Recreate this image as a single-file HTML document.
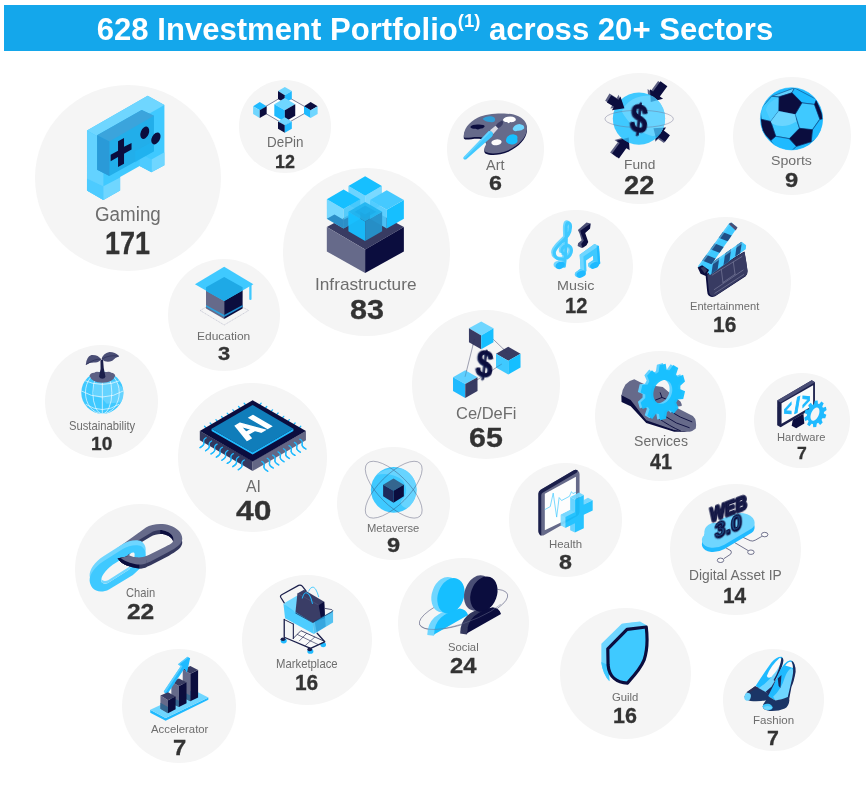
<!DOCTYPE html>
<html lang="en">
<head>
<meta charset="utf-8">
<title>628 Investment Portfolio across 20+ Sectors</title>
<style>
html,body{margin:0;padding:0;background:#fff;}
body{width:868px;height:790px;position:relative;overflow:hidden;font-family:"Liberation Sans",Arial,Helvetica,sans-serif;}
.hdr{position:absolute;left:3.8px;top:4.6px;width:862px;height:46.8px;background:#14a7eb;}
.hdr h1{position:absolute;left:0;top:0;width:862px;margin:0;height:46.8px;line-height:48px;text-align:center;color:#fff;font-weight:700;font-size:32px;white-space:nowrap;transform:scaleX(0.9713);transform-origin:50% 50%;}
.hdr h1 sup{font-size:19px;line-height:0;vertical-align:baseline;position:relative;top:-12.6px;}
.bubble{position:absolute;border-radius:50%;background:#f5f5f5;}
.lbl,.val{position:absolute;white-space:nowrap;line-height:1;transform-origin:0 50%;}
.lbl{color:#6d6d6d;font-weight:400;}
.val{color:#333;font-weight:700;-webkit-text-stroke:0.3px #333;}
svg.ico{position:absolute;width:868px;height:790px;overflow:visible;filter:blur(0.35px);pointer-events:none;}
</style>
</head>
<body>
<div class="hdr"><h1>628 Investment Portfolio<sup>(1)</sup> across 20+ Sectors</h1></div>

<div class="bubble b-gaming" style="left:34.8px;top:85.2px;width:186.0px;height:186.0px">
<svg class="ico" style="left:-34.8px;top:-85.2px" viewBox="0 0 868 790" width="868" height="790">
<g transform="translate(70,90) scale(0.13924)">
<polygon points="122,290 558,42 678,108 678,540 585,590 500,545 360,625 360,722 240,790 122,722" fill="#3fc9ff"/>
<polygon points="122,290 558,42 678,108 240,357" fill="#6fd6ff"/>
<polygon points="122,290 240,357 240,790 122,722" fill="#63d2ff"/>
<polygon points="122,635 240,692 360,628 360,722 240,790 122,722" fill="#6fd6ff"/>
<polygon points="122,635 240,692 240,790 122,722" fill="#4dcbff"/>
<polygon points="585,500 678,447 678,540 585,590" fill="#6fd6ff"/>
<polygon points="500,455 585,500 585,590 500,545" fill="#4dcbff"/>
<polygon points="195,325 515,143 603,185 603,440 283,617 195,572" fill="#22aeea"/>
<polygon points="195,325 515,143 603,185 283,370" fill="#3ba4dc"/>
<polygon points="195,325 283,370 283,617 195,572" fill="#2a9ad8"/>
<polygon points="468,440 603,365 603,440 500,500 468,520" fill="#1fb4f2" opacity="0.6"/>
<polygon points="345,368 388,345 388,408 442,380 442,428 388,458 388,530 345,553 345,482 292,512 292,465 345,436" fill="#0b0d3e"/>
<ellipse cx="537" cy="307" rx="29" ry="46" transform="rotate(22 537 307)" fill="#0b0d3e"/>
<ellipse cx="617" cy="348" rx="29" ry="46" transform="rotate(28 617 348)" fill="#0b0d3e"/>
</g>
</svg>
<span class="lbl" style="left:59.78px;top:119.54px;font-size:19.33px;transform:scaleX(0.9721)">Gaming</span>
<span class="val" style="left:70.41px;top:142.93px;font-size:31.94px;transform:scaleX(0.8454)">171</span>
</div>
<div class="bubble b-depin" style="left:239.0px;top:80.4px;width:92.4px;height:92.4px">
<svg class="ico" style="left:-239.0px;top:-80.4px" viewBox="0 0 868 790" width="868" height="790">
<g transform="translate(245,80) scale(0.09217)">
<polygon points="160,325 432,165 712,325 432,485" fill="#fff" stroke="#1b1f4b" stroke-width="6"/>
<polygon points="432,75 508,120 432,165 358,120" fill="#6fd6ff"/>
<polygon points="358,120 432,165 432,250 358,207" fill="#0b0d3e"/>
<polygon points="432,165 508,120 508,207 432,250" fill="#1fbaff"/>
<polygon points="432,195 545,262 432,328 318,262" fill="#6fd6ff"/>
<polygon points="318,262 432,328 432,455 318,388" fill="#1fbaff"/>
<polygon points="432,328 545,262 545,388 432,455" fill="#0b0d3e"/>
<polygon points="160,240 235,285 160,328 88,285" fill="#1fbaff"/>
<polygon points="88,285 160,328 160,412 88,370" fill="#6fd6ff"/>
<polygon points="160,328 235,285 235,370 160,412" fill="#0b0d3e"/>
<polygon points="712,240 788,285 712,328 640,285" fill="#0b0d3e"/>
<polygon points="640,285 712,328 712,412 640,370" fill="#1fbaff"/>
<polygon points="712,328 788,285 788,370 712,412" fill="#6fd6ff"/>
<polygon points="432,405 508,450 432,492 358,450" fill="#6fd6ff"/>
<polygon points="358,450 432,492 432,572 358,530" fill="#0b0d3e"/>
<polygon points="432,492 508,450 508,530 432,572" fill="#1fbaff"/>
</g>
</svg>
<span class="lbl" style="left:28.15px;top:55.59px;font-size:13.95px;transform:scaleX(0.9631)">DePin</span>
<span class="val" style="left:36.00px;top:72.43px;font-size:18.36px;transform:scaleX(0.9758)">12</span>
</div>
<div class="bubble b-infrastructure" style="left:283.2px;top:168.4px;width:167.2px;height:167.2px">
<svg class="ico" style="left:-283.2px;top:-168.4px" viewBox="0 0 868 790" width="868" height="790">
<g transform="translate(315,170) scale(0.13928)">
<polygon points="85,410 360,260 638,410 360,570" fill="#383b62"/>
<polygon points="85,410 360,570 360,740 85,585" fill="#666a8a"/>
<polygon points="360,570 638,410 638,585 360,740" fill="#0b0d3e"/>
<!-- back cube -->
<polygon points="240,115 360,185 360,320 240,250" fill="#5ed0ff" opacity="0.92"/>
<polygon points="360,185 480,115 480,250 360,320" fill="#6fd6ff" opacity="0.92"/>
<polygon points="360,45 480,115 360,185 240,115" fill="#16bfff"/>
<!-- left cube -->
<polygon points="85,210 205,280 205,420 85,350" fill="#6fd6ff" opacity="0.95"/>
<polygon points="205,280 325,210 325,350 205,420" fill="#45c6fb" opacity="0.9"/>
<polygon points="85,350 140,320 205,358 205,420" fill="#2b8fc8"/>
<polygon points="205,358 240,340 240,400 205,420" fill="#2b8fc8"/>
<polygon points="205,140 325,210 205,280 85,210" fill="#16bfff"/>
<!-- right cube -->
<polygon points="395,215 515,285 515,420 395,350" fill="#4fcbff" opacity="0.92"/>
<polygon points="515,285 638,215 638,350 515,420" fill="#16bfff"/>
<polygon points="515,145 638,215 515,285 395,215" fill="#45c9ff"/>
<!-- front cube -->
<polygon points="240,300 360,370 360,510 240,440" fill="#16bfff" opacity="0.95"/>
<polygon points="360,370 482,300 482,440 360,510" fill="#2592cb" opacity="0.95"/>
<polygon points="360,230 482,300 360,370 240,300" fill="#1fb4f0" opacity="0.9"/>
<polygon points="360,255 440,300 360,345 285,300" fill="#1aa8e6" opacity="0.6"/>
</g>
</svg>
<span class="lbl" style="left:31.99px;top:108.97px;font-size:15.99px;transform:scaleX(1.0775)">Infrastructure</span>
<span class="val" style="left:66.36px;top:127.62px;font-size:27.91px;transform:scaleX(1.0947)">83</span>
</div>
<div class="bubble b-education" style="left:167.7px;top:258.6px;width:112.8px;height:112.8px">
<svg class="ico" style="left:-167.7px;top:-258.6px" viewBox="0 0 868 790" width="868" height="790">
<g transform="translate(185,260) scale(0.09217)">
<polygon points="165,548 425,400 690,548 425,705" fill="none" stroke="#a3a5bb" stroke-width="5" stroke-dasharray="14 6"/>
<polygon points="228,300 425,410 425,640 228,525" fill="#666a8a"/>
<polygon points="425,410 625,300 625,525 425,640" fill="#0b0d3e"/>
<polygon points="228,488 425,598 425,618 228,508" fill="#2aa0dc"/>
<polygon points="425,598 625,488 625,508 425,618" fill="#1f8fd0"/>
<polygon points="108,262 425,72 742,262 425,445" fill="#3fc9ff"/>
<polygon points="228,295 425,185 625,295 625,330 425,445 228,335" fill="#1ea9e6"/>
<rect x="697" y="255" width="25" height="180" rx="12" fill="#3fc9ff"/>
</g>
</svg>
<span class="lbl" style="left:29.50px;top:72.68px;font-size:11.48px;transform:scaleX(1.0435)">Education</span>
<span class="val" style="left:50.62px;top:85.79px;font-size:19.13px;transform:scaleX(1.1458)">3</span>
</div>
<div class="bubble b-sustainability" style="left:45.3px;top:344.5px;width:113.0px;height:113.0px">
<svg class="ico" style="left:-45.3px;top:-344.5px" viewBox="0 0 868 790" width="868" height="790">
<g transform="translate(62,345) scale(0.09494)">
<defs><clipPath id="gl"><circle cx="425" cy="502" r="222"/></clipPath></defs>
<circle cx="425" cy="502" r="222" fill="#3fc9ff"/>
<g clip-path="url(#gl)">
<path d="M330,400 L560,380 L660,470 L640,600 L470,620 L420,560 L340,540 Z" fill="#6fd6ff" opacity="0.8"/>
<g fill="none" stroke="#fff" stroke-width="7" opacity="0.95">
<line x1="425" y1="280" x2="425" y2="724"/>
<ellipse cx="425" cy="502" rx="100" ry="222"/>
<ellipse cx="425" cy="502" rx="178" ry="222"/>
<path d="M195,480 Q425,615 655,480"/>
<path d="M225,370 Q425,460 625,370"/>
<path d="M250,625 Q425,735 600,625"/>
</g>
</g>
<path d="M290,325 Q300,290 340,292 Q360,275 390,285 L470,285 Q500,275 520,292 Q555,295 560,325 Q540,395 425,398 Q310,395 290,325 Z" fill="#5d6083"/>
<path d="M405,160 Q415,250 390,335 Q400,355 425,355 Q452,355 458,335 Q435,250 432,150 Z" fill="#1b1f4b"/>
<path d="M412,150 Q380,100 310,105 Q255,125 250,210 Q300,180 350,185 Q395,180 412,150 Z" fill="#4a4e75"/>
<path d="M418,150 Q430,90 500,75 Q560,75 602,118 Q560,130 530,165 Q470,195 418,150 Z" fill="#4a4e75"/>
<path d="M412,150 Q350,140 255,205" fill="none" stroke="#2c2f57" stroke-width="8"/>
<path d="M420,148 Q500,100 598,118" fill="none" stroke="#2c2f57" stroke-width="8"/>
</g>
</svg>
<span class="lbl" style="left:23.45px;top:76.71px;font-size:11.92px;transform:scaleX(0.9435)">Sustainability</span>
<span class="val" style="left:45.82px;top:89.28px;font-size:19.24px;transform:scaleX(0.9948)">10</span>
</div>
<div class="bubble b-ai" style="left:178.4px;top:383.4px;width:148.2px;height:148.2px">
<svg class="ico" style="left:-178.4px;top:-383.4px" viewBox="0 0 868 790" width="868" height="790">
<g transform="translate(190,392) scale(0.144)">
<g fill="none" stroke="#1fbaff" stroke-width="9" stroke-linecap="round"><path d="M119,258 L101,238" /><path d="M158,235 L140,215" /><path d="M198,212 L180,192" /><path d="M237,190 L219,170" /><path d="M276,167 L258,147" /><path d="M316,144 L298,124" /><path d="M355,121 L337,101" /><path d="M394,98 L376,78" /><path d="M476,98 L494,78" /><path d="M515,121 L533,101" /><path d="M555,144 L573,124" /><path d="M594,166 L612,146" /><path d="M633,189 L651,169" /><path d="M672,212 L690,192" /><path d="M712,235 L730,215" /><path d="M751,258 L769,238" /><path d="M112,318 q-22,12 -16,32 q6,18 -26,36" /><path d="M150,340 q-22,12 -16,32 q6,18 -26,36" /><path d="M188,362 q-22,12 -16,32 q6,18 -26,36" /><path d="M225,384 q-22,12 -16,32 q6,18 -26,36" /><path d="M263,406 q-22,12 -16,32 q6,18 -26,36" /><path d="M301,428 q-22,12 -16,32 q6,18 -26,36" /><path d="M339,450 q-22,12 -16,32 q6,18 -26,36" /><path d="M377,472 q-22,12 -16,32 q6,18 -26,36" /><path d="M498,482 q22,12 16,32 q-6,18 26,36" /><path d="M536,460 q22,12 16,32 q-6,18 26,36" /><path d="M574,438 q22,12 16,32 q-6,18 26,36" /><path d="M611,416 q22,12 16,32 q-6,18 26,36" /><path d="M649,394 q22,12 16,32 q-6,18 26,36" /><path d="M687,372 q22,12 16,32 q-6,18 26,36" /><path d="M725,350 q22,12 16,32 q-6,18 26,36" /><path d="M763,328 q22,12 16,32 q-6,18 26,36" /></g>
<polygon points="68,270 435,480 435,548 68,335" fill="#34385e"/>
<polygon points="435,480 805,270 805,335 435,548" fill="#636785"/>
<g fill="none" stroke="#1fbaff" stroke-width="9" stroke-linecap="round"><path d="M112,318 q-22,12 -16,32 q6,18 -26,36" /><path d="M150,340 q-22,12 -16,32 q6,18 -26,36" /><path d="M188,362 q-22,12 -16,32 q6,18 -26,36" /><path d="M225,384 q-22,12 -16,32 q6,18 -26,36" /><path d="M263,406 q-22,12 -16,32 q6,18 -26,36" /><path d="M301,428 q-22,12 -16,32 q6,18 -26,36" /><path d="M339,450 q-22,12 -16,32 q6,18 -26,36" /><path d="M377,472 q-22,12 -16,32 q6,18 -26,36" /><path d="M498,482 q22,12 16,32 q-6,18 26,36" /><path d="M536,460 q22,12 16,32 q-6,18 26,36" /><path d="M574,438 q22,12 16,32 q-6,18 26,36" /><path d="M611,416 q22,12 16,32 q-6,18 26,36" /><path d="M649,394 q22,12 16,32 q-6,18 26,36" /><path d="M687,372 q22,12 16,32 q-6,18 26,36" /><path d="M725,350 q22,12 16,32 q-6,18 26,36" /><path d="M763,328 q22,12 16,32 q-6,18 26,36" /></g>
<polygon points="68,270 435,58 805,270 435,482" fill="#0b0d3e"/>
<polygon points="150,255 435,418 718,255 718,270 435,434 150,270" fill="#1fbaff"/>
<polygon points="150,255 435,90 718,255 435,420" fill="#107dba"/>
<text transform="matrix(0.866,-0.5,0.866,0.5,392,338)" x="0" y="0" font-family="'Liberation Sans',Arial,sans-serif" font-weight="700" font-size="215" fill="#fff" stroke="#fff" stroke-width="10">AI</text>
</g>
</svg>
<span class="lbl" style="left:67.26px;top:95.73px;font-size:16.86px;transform:scaleX(0.9371)">AI</span>
<span class="val" style="left:57.35px;top:113.42px;font-size:28.05px;transform:scaleX(1.1361)">40</span>
</div>
<div class="bubble b-metaverse" style="left:336.8px;top:447.0px;width:113.2px;height:113.2px">
<svg class="ico" style="left:-336.8px;top:-447.0px" viewBox="0 0 868 790" width="868" height="790">
<g transform="translate(355,453) scale(0.09217)">
<defs><clipPath id="mv"><circle cx="420" cy="400" r="248"/></clipPath></defs>
<circle cx="420" cy="400" r="248" fill="#3fc9ff"/>
<g clip-path="url(#mv)"><path d="M230,240 Q330,150 520,170 L700,250 L700,560 L560,600 Q480,570 500,520 Q600,420 520,300 Q400,200 230,240 Z" fill="#6fd6ff" opacity="0.85"/></g>
<polygon points="418,278 530,345 418,410 305,345" fill="#34668f"/>
<polygon points="305,345 418,410 418,540 305,470" fill="#1d2a5c"/>
<polygon points="418,410 530,345 530,470 418,540" fill="#0b0d3e"/>
<g fill="none" stroke="#2c2f57" stroke-width="5" opacity="0.75">
<ellipse cx="420" cy="398" rx="405" ry="162" transform="rotate(45 420 398)"/>
<ellipse cx="420" cy="398" rx="405" ry="162" transform="rotate(-45 420 398)"/>
</g>
</g>
</svg>
<span class="lbl" style="left:30.47px;top:76.03px;font-size:11.19px;transform:scaleX(1.0004)">Metaverse</span>
<span class="val" style="left:49.84px;top:88.08px;font-size:20.64px;transform:scaleX(1.1430)">9</span>
</div>
<div class="bubble b-chain" style="left:75.1px;top:503.8px;width:130.8px;height:130.8px">
<svg class="ico" style="left:-75.1px;top:-503.8px" viewBox="0 0 868 790" width="868" height="790">
<defs>
<clipPath id="chL"><rect x="0" y="300" width="318" height="300"/></clipPath>
<clipPath id="chR"><rect x="545" y="0" width="300" height="300"/></clipPath>
<clipPath id="chH"><path d="M300,225 L440,140 C480,115 530,105 570,110 C640,120 700,170 688,225 C680,250 640,270 600,290 L420,380 C380,400 330,410 290,405 C240,400 200,385 185,360 Z"/></clipPath>
<g id="chd">
<path transform="translate(0,42)" d="M85,300 L390,82 C450,45 560,30 650,60 C740,90 800,160 780,225 C765,270 720,300 640,345 L440,450 C380,480 330,490 280,480 C180,460 100,420 75,360 C65,330 70,315 85,300 Z M300,225 L440,140 C480,115 530,105 570,110 C640,120 700,170 688,225 C680,250 640,270 600,290 L420,380 C380,400 330,410 290,405 C240,400 200,385 185,360 Z" fill="#34385e" fill-rule="evenodd"/>
<g clip-path="url(#chL)"><path transform="translate(0,42)" d="M85,300 L390,82 C450,45 560,30 650,60 C740,90 800,160 780,225 C765,270 720,300 640,345 L440,450 C380,480 330,490 280,480 C180,460 100,420 75,360 C65,330 70,315 85,300 Z M300,225 L440,140 C480,115 530,105 570,110 C640,120 700,170 688,225 C680,250 640,270 600,290 L420,380 C380,400 330,410 290,405 C240,400 200,385 185,360 Z" fill="#0b0d3e" fill-rule="evenodd"/></g>
<g clip-path="url(#chR)"><g clip-path="url(#chH)"><path transform="translate(0,42)" d="M85,300 L390,82 C450,45 560,30 650,60 C740,90 800,160 780,225 C765,270 720,300 640,345 L440,450 C380,480 330,490 280,480 C180,460 100,420 75,360 C65,330 70,315 85,300 Z M300,225 L440,140 C480,115 530,105 570,110 C640,120 700,170 688,225 C680,250 640,270 600,290 L420,380 C380,400 330,410 290,405 C240,400 200,385 185,360 Z" fill="#0b0d3e" fill-rule="evenodd"/></g></g>
<path d="M85,300 L390,82 C450,45 560,30 650,60 C740,90 800,160 780,225 C765,270 720,300 640,345 L440,450 C380,480 330,490 280,480 C180,460 100,420 75,360 C65,330 70,315 85,300 Z M300,225 L440,140 C480,115 530,105 570,110 C640,120 700,170 688,225 C680,250 640,270 600,290 L420,380 C380,400 330,410 290,405 C240,400 200,385 185,360 Z" fill="#666a8a" fill-rule="evenodd"/>
</g>
<clipPath id="chc"><polygon points="60,420 170,398 250,398 400,385 400,545 60,545"/></clipPath>
</defs>
<g transform="translate(110,520) scale(0.09217)"><g >
<path transform="translate(0,42)" d="M85,300 L390,82 C450,45 560,30 650,60 C740,90 800,160 780,225 C765,270 720,300 640,345 L440,450 C380,480 330,490 280,480 C180,460 100,420 75,360 C65,330 70,315 85,300 Z M300,225 L440,140 C480,115 530,105 570,110 C640,120 700,170 688,225 C680,250 640,270 600,290 L420,380 C380,400 330,410 290,405 C240,400 200,385 185,360 Z" fill="#34385e" fill-rule="evenodd"/>
<g clip-path="url(#chL)"><path transform="translate(0,42)" d="M85,300 L390,82 C450,45 560,30 650,60 C740,90 800,160 780,225 C765,270 720,300 640,345 L440,450 C380,480 330,490 280,480 C180,460 100,420 75,360 C65,330 70,315 85,300 Z M300,225 L440,140 C480,115 530,105 570,110 C640,120 700,170 688,225 C680,250 640,270 600,290 L420,380 C380,400 330,410 290,405 C240,400 200,385 185,360 Z" fill="#0b0d3e" fill-rule="evenodd"/></g>
<g clip-path="url(#chR)"><g clip-path="url(#chH)"><path transform="translate(0,42)" d="M85,300 L390,82 C450,45 560,30 650,60 C740,90 800,160 780,225 C765,270 720,300 640,345 L440,450 C380,480 330,490 280,480 C180,460 100,420 75,360 C65,330 70,315 85,300 Z M300,225 L440,140 C480,115 530,105 570,110 C640,120 700,170 688,225 C680,250 640,270 600,290 L420,380 C380,400 330,410 290,405 C240,400 200,385 185,360 Z" fill="#0b0d3e" fill-rule="evenodd"/></g></g>
<path d="M85,300 L390,82 C450,45 560,30 650,60 C740,90 800,160 780,225 C765,270 720,300 640,345 L440,450 C380,480 330,490 280,480 C180,460 100,420 75,360 C65,330 70,315 85,300 Z M300,225 L440,140 C480,115 530,105 570,110 C640,120 700,170 688,225 C680,250 640,270 600,290 L420,380 C380,400 330,410 290,405 C240,400 200,385 185,360 Z" fill="#666a8a" fill-rule="evenodd"/>
</g></g>
<g transform="translate(85,535) scale(0.09217)">
<defs><mask id="chm" maskUnits="userSpaceOnUse" x="0" y="0" width="900" height="700"><rect x="0" y="0" width="900" height="700" fill="#fff"/><path d="M178,505 C168,455 215,385 300,322 L440,235 C480,205 520,180 535,195 C550,215 535,290 480,375 L250,520 C220,535 185,530 178,505 Z" fill="#000"/></mask></defs>
<g mask="url(#chm)">
<path transform="translate(0,-55)" d="M50,495 C48,430 100,350 200,285 L410,153 C470,115 560,98 610,123 C650,148 668,200 655,250 L610,350 L520,435 L260,590 C200,622 120,622 82,575 C62,550 52,525 50,495 Z" fill="#6fd6ff"/>
<path d="M50,495 C48,430 100,350 200,285 L410,153 C470,115 560,98 610,123 C650,148 668,200 655,250 L610,350 L520,435 L260,590 C200,622 120,622 82,575 C62,550 52,525 50,495 Z" fill="#3fc9ff"/>
</g>
<defs><clipPath id="chbh"><path d="M178,505 C168,455 215,385 300,322 L440,235 C480,205 520,180 535,195 C550,215 535,290 480,375 L250,520 C220,535 185,530 178,505 Z"/></clipPath></defs>
<g clip-path="url(#chbh)"><path transform="translate(0,-30)" d="M50,495 C48,430 100,350 200,285 L410,153 C470,115 560,98 610,123 C650,148 668,200 655,250 L610,350 L520,435 L260,590 C200,622 120,622 82,575 C62,550 52,525 50,495 Z M178,505 C168,455 215,385 300,322 L440,235 C480,205 520,180 535,195 C550,215 535,290 480,375 L250,520 C220,535 185,530 178,505 Z" fill="#6fd6ff" fill-rule="evenodd"/></g>
</g>
<g transform="translate(110,520) scale(0.09217)" clip-path="url(#chc)"><g >
<path transform="translate(0,42)" d="M85,300 L390,82 C450,45 560,30 650,60 C740,90 800,160 780,225 C765,270 720,300 640,345 L440,450 C380,480 330,490 280,480 C180,460 100,420 75,360 C65,330 70,315 85,300 Z M300,225 L440,140 C480,115 530,105 570,110 C640,120 700,170 688,225 C680,250 640,270 600,290 L420,380 C380,400 330,410 290,405 C240,400 200,385 185,360 Z" fill="#34385e" fill-rule="evenodd"/>
<g clip-path="url(#chL)"><path transform="translate(0,42)" d="M85,300 L390,82 C450,45 560,30 650,60 C740,90 800,160 780,225 C765,270 720,300 640,345 L440,450 C380,480 330,490 280,480 C180,460 100,420 75,360 C65,330 70,315 85,300 Z M300,225 L440,140 C480,115 530,105 570,110 C640,120 700,170 688,225 C680,250 640,270 600,290 L420,380 C380,400 330,410 290,405 C240,400 200,385 185,360 Z" fill="#0b0d3e" fill-rule="evenodd"/></g>
<g clip-path="url(#chR)"><g clip-path="url(#chH)"><path transform="translate(0,42)" d="M85,300 L390,82 C450,45 560,30 650,60 C740,90 800,160 780,225 C765,270 720,300 640,345 L440,450 C380,480 330,490 280,480 C180,460 100,420 75,360 C65,330 70,315 85,300 Z M300,225 L440,140 C480,115 530,105 570,110 C640,120 700,170 688,225 C680,250 640,270 600,290 L420,380 C380,400 330,410 290,405 C240,400 200,385 185,360 Z" fill="#0b0d3e" fill-rule="evenodd"/></g></g>
<path d="M85,300 L390,82 C450,45 560,30 650,60 C740,90 800,160 780,225 C765,270 720,300 640,345 L440,450 C380,480 330,490 280,480 C180,460 100,420 75,360 C65,330 70,315 85,300 Z M300,225 L440,140 C480,115 530,105 570,110 C640,120 700,170 688,225 C680,250 640,270 600,290 L420,380 C380,400 330,410 290,405 C240,400 200,385 185,360 Z" fill="#666a8a" fill-rule="evenodd"/>
</g></g>
</svg>
<span class="lbl" style="left:51.02px;top:84.41px;font-size:11.92px;transform:scaleX(0.9378)">Chain</span>
<span class="val" style="left:52.06px;top:96.03px;font-size:22.97px;transform:scaleX(1.0666)">22</span>
</div>
<div class="bubble b-marketplace" style="left:241.5px;top:574.5px;width:130.6px;height:130.6px">
<svg class="ico" style="left:-241.5px;top:-574.5px" viewBox="0 0 868 790" width="868" height="790">
<g transform="translate(266,578) scale(0.10127)">
<!-- wheels -->
<ellipse cx="175" cy="622" rx="30" ry="24" fill="#1fbaff"/><ellipse cx="168" cy="605" rx="24" ry="18" fill="#1b1f4b"/>
<ellipse cx="438" cy="725" rx="30" ry="24" fill="#1fbaff"/><ellipse cx="432" cy="705" rx="24" ry="18" fill="#1b1f4b"/>
<ellipse cx="565" cy="660" rx="28" ry="24" fill="#1fbaff"/>
<!-- lower shelf -->
<polygon points="270,595 345,520 565,625 450,690" fill="#fafafa"/>
<g fill="none" stroke="#1b1f4b" stroke-linejoin="round" stroke-linecap="round">
<path d="M180,410 L180,585 L440,695 L580,630 L505,545" stroke-width="13"/>
<path d="M270,455 L270,598" stroke-width="11"/>
<path d="M180,410 L270,455" stroke-width="9"/>
<path d="M270,595 L345,520 L565,620" stroke-width="8"/>
<path d="M310,558 L510,655 M400,548 L330,620 M480,585 L390,665" stroke-width="6"/>
</g>
<!-- basket back -->
<polygon points="178,250 310,172 300,340 215,300" fill="#6fd6ff"/>
<path d="M180,245 L145,190 Q138,175 155,165 L322,73 Q342,65 358,80 L395,128" fill="none" stroke="#1b1f4b" stroke-width="12" stroke-linecap="round" stroke-linejoin="round"/>
<!-- bag -->
<path d="M420,130 Q455,60 490,110 Q510,145 520,185" fill="none" stroke="#3fc9ff" stroke-width="9" stroke-linecap="round"/>
<polygon points="310,152 375,115 575,235 582,395 465,442 290,348" fill="#3a3d66"/>
<polygon points="520,268 575,235 582,395 545,410" fill="#0b0d3e"/>
<path d="M312,152 L520,268" stroke="#52567e" stroke-width="6" fill="none"/>
<path d="M358,198 Q385,110 430,170 Q450,205 458,252" fill="none" stroke="#1fbaff" stroke-width="10" stroke-linecap="round"/>
<!-- basket front -->
<polygon points="172,252 290,335 462,440 472,552 188,398" fill="#3fc9ff" opacity="0.93"/>
<polygon points="462,440 662,322 662,440 472,552" fill="#2cb5f0" opacity="0.8"/>
<path d="M290,345 L462,440 L582,372" fill="none" stroke="#1b1f4b" stroke-width="7" stroke-linejoin="round"/>
<path d="M582,300 L650,312 Q668,320 650,335 L582,372" fill="none" stroke="#1b1f4b" stroke-width="7" stroke-linejoin="round"/>
<polygon points="480,432 582,375 590,480 500,535" fill="#1f8fd0" opacity="0.55"/>
</g>
</svg>
<span class="lbl" style="left:34.02px;top:84.71px;font-size:11.92px;transform:scaleX(0.9503)">Marketplace</span>
<span class="val" style="left:53.76px;top:96.33px;font-size:22.97px;transform:scaleX(0.9094)">16</span>
</div>
<div class="bubble b-accelerator" style="left:122.2px;top:649.0px;width:114.0px;height:114.0px">
<svg class="ico" style="left:-122.2px;top:-649.0px" viewBox="0 0 868 790" width="868" height="790">
<g transform="translate(140,650) scale(0.09494)">
<polygon points="108,630 270,715 720,500 720,525 270,745 108,660" fill="#1fbaff"/>
<polygon points="108,630 560,420 720,500 270,715" fill="#6fd6ff"/>
<!-- bar3 -->
<polygon points="450,205 530,250 530,540 450,500" fill="#666a8a"/>
<polygon points="450,440 530,480 530,540 450,500" fill="#34668f"/>
<polygon points="530,250 612,210 612,500 530,540" fill="#0b0d3e"/>
<polygon points="450,205 530,168 612,210 530,250" fill="#383b62"/>
<!-- bar2 -->
<polygon points="330,335 410,380 410,600 330,560" fill="#666a8a"/>
<polygon points="330,495 410,535 410,600 330,560" fill="#34668f"/>
<polygon points="410,380 490,340 490,560 410,600" fill="#0b0d3e"/>
<polygon points="330,335 410,300 490,340 410,380" fill="#383b62"/>
<!-- arrow -->
<polygon points="250,438 428,170 400,150 500,72 528,88 495,240 468,195 290,462 268,462" fill="#1fbaff"/>
<polygon points="250,438 428,170 400,150 500,72 512,80 420,150 448,172 268,450" fill="#6fd6ff" opacity="0.7"/>
<!-- bar1 -->
<polygon points="215,480 295,530 295,665 215,620" fill="#666a8a"/>
<polygon points="215,555 295,600 295,665 215,620" fill="#34668f"/>
<polygon points="295,530 375,490 375,625 295,665" fill="#0b0d3e"/>
<polygon points="215,480 295,445 375,490 295,530" fill="#383b62"/>
</g>
</svg>
<span class="lbl" style="left:28.54px;top:74.57px;font-size:10.90px;transform:scaleX(1.0416)">Accelerator</span>
<span class="val" style="left:50.41px;top:87.84px;font-size:22.24px;transform:scaleX(1.0685)">7</span>
</div>
<div class="bubble b-art" style="left:447.0px;top:100.4px;width:97.2px;height:97.2px">
<svg class="ico" style="left:-447.0px;top:-100.4px" viewBox="0 0 868 790" width="868" height="790">
<g transform="translate(455,105) scale(0.09217)">
<defs><path id="arp" d="M95,335 C95,270 140,190 250,135 C360,85 560,80 660,110 C750,140 790,200 780,270 C770,350 700,430 580,490 C480,530 380,535 335,510 C305,490 320,460 335,430 C345,400 330,360 280,350 C220,340 150,360 110,355 C98,352 95,345 95,335 Z"/></defs>
<path d="M95,335 C95,270 140,190 250,135 C360,85 560,80 660,110 C750,140 790,200 780,270 C770,350 700,430 580,490 C480,530 380,535 335,510 C305,490 320,460 335,430 C345,400 330,360 280,350 C220,340 150,360 110,355 C98,352 95,345 95,335 Z" transform="translate(0,18)" fill="#0b0d3e"/>
<path d="M95,335 C95,270 140,190 250,135 C360,85 560,80 660,110 C750,140 790,200 780,270 C770,350 700,430 580,490 C480,530 380,535 335,510 C305,490 320,460 335,430 C345,400 330,360 280,350 C220,340 150,360 110,355 C98,352 95,345 95,335 Z" fill="#666a8a"/>
<ellipse cx="450" cy="405" rx="56" ry="32" fill="#fbfbfb" transform="rotate(-8 450 405)"/>
<path d="M300,150 Q330,115 390,122 Q440,130 435,165 Q430,195 380,185 Q330,185 300,150 Z" fill="#2f9fd8"/>
<path d="M520,160 Q540,125 600,125 Q665,130 660,165 Q640,190 600,185 Q580,210 565,185 Q525,185 520,160 Z" fill="#fff"/>
<path d="M625,260 Q640,210 700,205 Q760,215 750,255 Q720,285 680,280 Q640,295 625,260 Z" fill="#6fd6ff"/>
<path d="M555,375 Q560,325 630,318 Q690,325 675,370 Q690,410 640,425 Q580,435 560,405 Q550,390 555,375 Z" fill="#16bfff"/>
<path d="M165,238 Q190,210 250,212 Q320,210 322,232 Q310,255 270,258 Q250,275 225,258 Q175,258 165,238 Z" fill="#0b0d3e"/>
<path d="M440,225 Q470,185 510,168 Q530,180 515,215 Q495,245 465,252 Z" fill="#3a3d66"/>
<path d="M380,275 L440,225 L468,255 L415,315 Z" fill="#d9dae3"/>
<path d="M95,565 L365,285 Q390,275 410,300 Q418,325 400,345 L120,590 Q100,595 92,582 Q88,572 95,565 Z" fill="#3fc9ff"/>
<path d="M95,565 L365,285 Q380,278 392,285 L105,580 Z" fill="#6fd6ff" opacity="0.8"/>
</g>
</svg>
<span class="lbl" style="left:39.20px;top:58.51px;font-size:13.81px;transform:scaleX(1.0490)">Art</span>
<span class="val" style="left:41.93px;top:72.52px;font-size:20.64px;transform:scaleX(1.1273)">6</span>
</div>
<div class="bubble b-fund" style="left:573.9px;top:72.8px;width:131.0px;height:131.0px">
<svg class="ico" style="left:-573.9px;top:-72.8px" viewBox="0 0 868 790" width="868" height="790">
<g transform="translate(597,75) scale(0.10759)">
<defs><clipPath id="fdc"><circle cx="390" cy="405" r="243"/></clipPath></defs>
<polygon points="590,59 521,154 492,133 500,250 614,221 584,200 654,105" transform="translate(-22,-4)" fill="#5d6083"/>
<polygon points="590,59 521,154 492,133 500,250 614,221 584,200 654,105" fill="#0b0d3e"/>
<polygon points="204,775 274,678 303,699 295,582 181,611 211,632 140,729" transform="translate(-18,-8)" fill="#5d6083"/>
<polygon points="204,775 274,678 303,699 295,582 181,611 211,632 140,729" fill="#0b0d3e"/>
<polygon points="678,559 621,517 642,488 525,495 553,609 575,580 632,621" transform="translate(-10,12)" fill="#5d6083"/>
<polygon points="678,559 621,517 642,488 525,495 553,609 575,580 632,621" fill="#0b0d3e"/>
<circle cx="390" cy="405" r="243" fill="#3fc9ff"/>
<g clip-path="url(#fdc)">
<path d="M230,340 Q300,180 520,190 L680,250 L680,520 L520,570 Q330,520 230,340 Z" fill="#6fd6ff" opacity="0.85"/>
<polygon points="590,59 521,154 492,133 500,250 614,221 584,200 654,105" fill="#1673b0" opacity="0.55"/>
<polygon points="204,775 274,678 303,699 295,582 181,611 211,632 140,729" fill="#1673b0" opacity="0.55"/>
<polygon points="678,559 621,517 642,488 525,495 553,609 575,580 632,621" fill="#1673b0" opacity="0.55"/>
</g>
<polygon points="92,255 158,296 139,327 255,310 218,199 199,230 132,189" transform="translate(-16,-16)" fill="#5d6083"/>
<polygon points="92,255 158,296 139,327 255,310 218,199 199,230 132,189" fill="#0b0d3e"/>
<ellipse cx="392" cy="408" rx="318" ry="80" fill="none" stroke="#6b6f8f" stroke-width="4"/>
<text transform="translate(395,405) matrix(0.78,0.2,-0.1,1,0,0)" x="0" y="125" text-anchor="middle" font-family="'Liberation Sans',Arial,sans-serif" font-weight="700" font-size="370" fill="#0b0d3e" style="filter:drop-shadow(-14px 10px 0 #1d2a5c)">$</text>
</g>
</svg>
<span class="lbl" style="left:49.77px;top:84.86px;font-size:13.52px;transform:scaleX(1.0156)">Fund</span>
<span class="val" style="left:50.46px;top:99.60px;font-size:26.31px;transform:scaleX(1.0349)">22</span>
</div>
<div class="bubble b-sports" style="left:732.6px;top:77.1px;width:118.0px;height:118.0px">
<svg class="ico" style="left:-732.6px;top:-77.1px" viewBox="0 0 868 790" width="868" height="790">
<g transform="translate(752,80) scale(0.09877)">
<defs><clipPath id="spc"><circle cx="400" cy="393" r="315"/></clipPath></defs>
<circle cx="400" cy="393" r="315" fill="#1fbaff"/>
<g clip-path="url(#spc)" stroke="#0d2c66" stroke-width="5" stroke-linejoin="round">
<polygon points="200,165 430,80 405,130 275,170" fill="#5fd0ff"/>
<polygon points="430,80 660,200 632,247 505,231 405,130" fill="#1fbaff"/>
<polygon points="200,165 272,172 269,313 188,419 95,398 80,300" fill="#3fc9ff"/>
<polygon points="270,315 435,348 480,489 378,593 240,569 190,420" fill="#3fc9ff"/>
<polygon points="505,232 632,248 686,396 612,503 482,489 437,347" fill="#3fc9ff"/>
<polygon points="190,612 240,570 378,595 450,672 400,720 250,700" fill="#1fbaff"/>
<polygon points="612,505 688,398 730,395 700,560 600,628" fill="#1fbaff"/>
<polygon points="450,672 598,625 560,720 400,720" fill="#1fbaff"/>
<polygon points="275,170 405,130 505,231 436,347 270,313" fill="#0b0d3e"/>
<polygon points="650,200 730,390 688,397 633,247" fill="#0b0d3e"/>
<polygon points="481,489 612,504 598,625 450,672 379,594" fill="#0b0d3e"/>
<polygon points="90,398 189,420 240,569 190,612 100,520" fill="#0b0d3e"/>
<path d="M200,440 Q320,500 450,420 L436,348 L270,314 L190,420 Z" fill="#6fd6ff" stroke="none" opacity="0.9"/>
<path d="M140,300 Q160,220 268,180 L268,312 L190,415 Z" fill="#5fd0ff" stroke="none" opacity="0.6"/>
</g>
<circle cx="400" cy="393" r="315" fill="none" stroke="#1fbaff" stroke-width="6"/>
</g>
</svg>
<span class="lbl" style="left:37.97px;top:76.78px;font-size:13.37px;transform:scaleX(1.0600)">Sports</span>
<span class="val" style="left:52.82px;top:91.88px;font-size:21.08px;transform:scaleX(1.1252)">9</span>
</div>
<div class="bubble b-music" style="left:519.2px;top:209.7px;width:113.6px;height:113.6px">
<svg class="ico" style="left:-519.2px;top:-209.7px" viewBox="0 0 868 790" width="868" height="790">
<g transform="translate(540,214) scale(0.08857)">
<!-- treble clef -->
<g fill="none" stroke-linecap="round" stroke-linejoin="round">
<path d="M275,590 C290,480 300,300 295,200 C292,130 300,95 325,100 C355,110 350,180 320,235 C280,300 190,350 165,420 C150,480 200,520 260,510 C330,500 370,440 350,385 C335,345 280,345 255,385 C240,415 250,440 270,450" stroke="#6fd6ff" stroke-width="40" transform="translate(-16,-8)"/>
<path d="M275,590 C290,480 300,300 295,200 C292,130 300,95 325,100 C355,110 350,180 320,235 C280,300 190,350 165,420 C150,480 200,520 260,510 C330,500 370,440 350,385 C335,345 280,345 255,385 C240,415 250,440 270,450" stroke="#3fc9ff" stroke-width="34"/>
</g>
<ellipse cx="205" cy="572" rx="52" ry="42" fill="#6fd6ff"/>
<ellipse cx="228" cy="580" rx="55" ry="40" fill="#1fbaff" transform="rotate(-25 228 580)"/>
<ellipse cx="222" cy="448" rx="22" ry="10" fill="#e8f8ff"/>
<!-- small navy note -->
<polygon points="428,180 525,95 570,108 565,165 500,215 535,310 520,350 470,385 425,360 430,330 470,295 445,215" fill="#4a4e75"/>
<polygon points="455,190 570,108 565,165 510,215 545,315 525,352 480,385 465,340 495,300 465,225" fill="#0b0d3e"/>
<!-- beamed notes -->
<polygon points="448,460 615,340 665,360 680,560 640,600 590,615 545,590 545,555 600,520 598,470 520,525 525,640 500,690 450,715 400,700 395,665 445,625 458,620" fill="#3fc9ff"/>
<polygon points="448,460 615,340 665,360 490,480 498,640 458,620" fill="#6fd6ff"/>
<ellipse cx="445" cy="672" rx="55" ry="36" fill="#5fd0ff" transform="rotate(-25 445 672)"/>
<ellipse cx="465" cy="680" rx="55" ry="36" fill="#1fbaff" transform="rotate(-25 465 680)"/>
<ellipse cx="595" cy="572" rx="52" ry="34" fill="#5fd0ff" transform="rotate(-25 595 572)"/>
<ellipse cx="615" cy="580" rx="52" ry="34" fill="#1fbaff" transform="rotate(-25 615 580)"/>
<polygon points="640,365 665,360 680,560 655,575" fill="#1fbaff"/>
</g>
</svg>
<span class="lbl" style="left:38.00px;top:70.17px;font-size:12.79px;transform:scaleX(1.1210)">Music</span>
<span class="val" style="left:45.60px;top:83.93px;font-size:22.97px;transform:scaleX(0.8742)">12</span>
</div>
<div class="bubble b-entertainment" style="left:659.5px;top:216.5px;width:131.0px;height:131.0px">
<svg class="ico" style="left:-659.5px;top:-216.5px" viewBox="0 0 868 790" width="868" height="790">
<g transform="translate(685,218) scale(0.10376)">
<path d="M198,545 L572,322 Q590,420 602,510 Q603,545 585,562 L290,755 Q250,772 228,748 Q215,735 213,700 Z" fill="#0b0d3e"/>
<path d="M215,548 L574,325 Q592,420 603,508 Q604,540 586,555 L300,745 Q262,760 242,740 Q232,725 230,700 Z" fill="#383b62"/>
<g fill="none" stroke="#8e91ad" stroke-width="5" stroke-linecap="round">
<path d="M262,550 L548,372"/><path d="M282,690 L560,502"/><path d="M288,725 L566,545"/>
<path d="M350,497 L366,622"/><path d="M466,425 L482,542"/>
<path d="M366,622 L482,542"/>
</g>
<defs>
<clipPath id="enL"><polygon points="190,480 545,228 590,262 585,300 240,550"/></clipPath>
<clipPath id="enU"><polygon points="124,468 428,48 448,44 504,92 205,518"/></clipPath>
</defs>
<g clip-path="url(#enL)"><rect x="150" y="200" width="480" height="380" fill="#3fc9ff"/>
<polygon points="272,416 332,374 312,514 252,556" fill="#1f4f86"/>
<polygon points="388,334 446,292 426,432 368,474" fill="#1f4f86"/>
<polygon points="500,254 550,218 530,358 480,394" fill="#1f4f86"/>
<polygon points="190,480 545,228 560,240 205,492" fill="#6fd6ff" opacity="0.55"/>
</g>
<g clip-path="url(#enU)"><rect x="100" y="30" width="430" height="500" fill="#3fc9ff"/>
<polygon points="326,120 486,184 447,239 287,175" fill="#1f4f86"/>
<polygon points="248,230 408,294 368,350 208,286" fill="#1f4f86"/>
<polygon points="169,340 329,404 290,459 130,395" fill="#1f4f86"/>
<polygon points="124,468 428,48 442,56 138,478" fill="#6fd6ff" opacity="0.55"/>
</g>
<polygon points="422,58 445,44 506,92 488,120" fill="#4a4e75"/>
<polygon points="122,478 165,455 232,500 200,560 150,538" fill="#0b0d3e"/>
<polygon points="150,480 185,470 215,505 190,535" fill="#34385e"/>
</g>
</svg>
<span class="lbl" style="left:30.51px;top:84.65px;font-size:11.05px;transform:scaleX(1.0072)">Entertainment</span>
<span class="val" style="left:53.77px;top:96.73px;font-size:22.97px;transform:scaleX(0.9106)">16</span>
</div>
<div class="bubble b-cedefi" style="left:411.5px;top:310.3px;width:148.4px;height:148.4px">
<svg class="ico" style="left:-411.5px;top:-310.3px" viewBox="0 0 868 790" width="868" height="790">
<g transform="translate(445,315) scale(0.1114)">
<g stroke="#2c2f57" stroke-width="4" fill="none"><path d="M265,215 L180,555"/><path d="M430,215 L560,340"/><path d="M510,440 L230,620"/></g>
<polygon points="325,58 435,120 325,183 215,120" fill="#6fd6ff"/>
<polygon points="215,120 325,183 325,308 215,245" fill="#383b62"/>
<polygon points="325,183 435,120 435,245 325,308" fill="#16bfff"/>
<polygon points="568,285 678,348 568,410 458,348" fill="#383b62"/>
<polygon points="458,348 568,410 568,535 458,472" fill="#3fc9ff"/>
<polygon points="568,410 678,348 678,472 568,535" fill="#16bfff"/>
<polygon points="182,495 292,558 182,620 72,558" fill="#5fd0ff"/>
<polygon points="72,558 182,620 182,746 72,683" fill="#1fbaff"/>
<polygon points="182,620 292,558 292,683 182,746" fill="#383b62"/>
<g stroke="#2c2f57" stroke-width="4" fill="none" opacity="0.6"><path d="M265,215 L250,275"/><path d="M195,495 L180,555"/><path d="M510,440 L458,472"/><path d="M292,580 L230,620"/><path d="M520,300 L560,340"/></g>
<text transform="translate(360,436) matrix(0.8,0.18,-0.12,1,0,0)" x="0" y="112" text-anchor="middle" font-family="'Liberation Sans',Arial,sans-serif" font-weight="700" font-size="335" fill="#0b0d3e" style="filter:drop-shadow(-13px 9px 0 #1d2a5c)">$</text>
</g>
</svg>
<span class="lbl" style="left:44.08px;top:95.35px;font-size:16.72px;transform:scaleX(0.9881)">Ce/DeFi</span>
<span class="val" style="left:57.10px;top:113.72px;font-size:27.91px;transform:scaleX(1.0883)">65</span>
</div>
<div class="bubble b-services" style="left:595.4px;top:350.6px;width:130.8px;height:130.8px">
<svg class="ico" style="left:-595.4px;top:-350.6px" viewBox="0 0 868 790" width="868" height="790">
<g transform="translate(612,357) scale(0.10369)">
<path d="M90,365 L180,400 L330,600 L600,700 L750,722 L600,722 L330,636 L180,475 L92,434 Z" fill="#0b0d3e"/>
<path d="M130,265 Q170,225 215,215 Q270,245 320,265 L490,290 L560,350 L660,430 Q680,465 670,472 L610,482 L780,570 Q810,600 808,622 Q815,660 808,690 Q780,715 750,720 L600,705 L330,610 L180,415 L92,368 Q100,310 130,265 Z" fill="#666a8a"/>
<g stroke="#0b0d3e" stroke-width="9" fill="none" stroke-linecap="round"><path d="M540,510 Q660,590 770,625"/><path d="M500,565 Q620,650 745,682"/><path d="M440,585 Q560,670 660,712"/>
<path d="M420,415 L482,390 L465,345 M482,390 L535,412"/></g>
<path transform="translate(-26,-6)" d="M635.8,409.2 L686.9,404.0 L704.5,331.4 L659.3,311.9 L659.1,277.9 L703.8,236.0 L685.3,172.3 L634.3,192.6 L617.8,169.1 L639.0,106.5 L591.5,76.1 L554.1,128.5 L527.7,124.5 L517.3,65.0 L459.0,79.6 L449.5,144.0 L423.2,161.0 L385.2,127.5 L338.3,181.3 L360.3,233.2 L344.2,264.8 L293.1,270.0 L275.5,342.6 L320.7,362.1 L320.9,396.1 L276.2,438.0 L294.7,501.7 L345.7,481.4 L362.2,504.9 L341.0,567.5 L388.5,597.9 L425.9,545.5 L452.3,549.5 L462.7,609.0 L521.0,594.4 L530.5,530.0 L556.8,513.0 L594.8,546.5 L641.7,492.7 L619.7,440.8 Z M572.1,366.9 L577.8,347.2 L580.9,327.3 L581.2,307.6 L578.7,288.9 L573.6,271.6 L565.9,256.2 L555.9,243.4 L543.9,233.4 L530.2,226.5 L515.4,223.0 L499.7,222.9 L483.8,226.4 L468.0,233.1 L453.0,243.1 L439.0,255.9 L426.6,271.1 L416.1,288.4 L407.9,307.1 L402.2,326.8 L399.1,346.7 L398.8,366.4 L401.3,385.1 L406.4,402.4 L414.1,417.8 L424.1,430.6 L436.1,440.6 L449.8,447.5 L464.6,451.0 L480.3,451.1 L496.2,447.6 L512.0,440.9 L527.0,430.9 L541.0,418.1 L553.4,402.9 L563.9,385.6 Z" fill="#5fd0ff" fill-rule="evenodd"/>
<path d="M635.8,409.2 L686.9,404.0 L704.5,331.4 L659.3,311.9 L659.1,277.9 L703.8,236.0 L685.3,172.3 L634.3,192.6 L617.8,169.1 L639.0,106.5 L591.5,76.1 L554.1,128.5 L527.7,124.5 L517.3,65.0 L459.0,79.6 L449.5,144.0 L423.2,161.0 L385.2,127.5 L338.3,181.3 L360.3,233.2 L344.2,264.8 L293.1,270.0 L275.5,342.6 L320.7,362.1 L320.9,396.1 L276.2,438.0 L294.7,501.7 L345.7,481.4 L362.2,504.9 L341.0,567.5 L388.5,597.9 L425.9,545.5 L452.3,549.5 L462.7,609.0 L521.0,594.4 L530.5,530.0 L556.8,513.0 L594.8,546.5 L641.7,492.7 L619.7,440.8 Z M572.1,366.9 L577.8,347.2 L580.9,327.3 L581.2,307.6 L578.7,288.9 L573.6,271.6 L565.9,256.2 L555.9,243.4 L543.9,233.4 L530.2,226.5 L515.4,223.0 L499.7,222.9 L483.8,226.4 L468.0,233.1 L453.0,243.1 L439.0,255.9 L426.6,271.1 L416.1,288.4 L407.9,307.1 L402.2,326.8 L399.1,346.7 L398.8,366.4 L401.3,385.1 L406.4,402.4 L414.1,417.8 L424.1,430.6 L436.1,440.6 L449.8,447.5 L464.6,451.0 L480.3,451.1 L496.2,447.6 L512.0,440.9 L527.0,430.9 L541.0,418.1 L553.4,402.9 L563.9,385.6 Z" fill="#16bfff" fill-rule="evenodd" opacity="0.96"/>
</g>
</svg>
<span class="lbl" style="left:38.45px;top:84.51px;font-size:13.81px;transform:scaleX(1.0190)">Services</span>
<span class="val" style="left:55.00px;top:99.25px;font-size:22.82px;transform:scaleX(0.8662)">41</span>
</div>
<div class="bubble b-hardware" style="left:754.0px;top:372.6px;width:95.6px;height:95.6px">
<svg class="ico" style="left:-754.0px;top:-372.6px" viewBox="0 0 868 790" width="868" height="790">
<g transform="translate(770,375) scale(0.07595)">
<polygon points="300,590 440,510 452,640 345,702 285,668" fill="#0b0d3e"/>
<polygon points="95,335 550,68 592,95 592,420 140,688 95,660" fill="#1b1f4b"/>
<polygon points="95,335 550,68 592,95 140,362" fill="#4a4e75"/>
<polygon points="152,372 568,135 568,402 152,642" fill="#fafafa"/>
<text transform="matrix(0.9,-0.45,0,1.4,180,575)" x="0" y="0" font-family="'Liberation Sans',Arial,sans-serif" font-weight="700" font-size="200" fill="#1fbaff" stroke="#1fbaff" stroke-width="10">&lt;</text>
<text transform="matrix(1.3,-0.5,0,1.35,322,502)" x="0" y="0" font-family="'Liberation Sans',Arial,sans-serif" font-weight="700" font-size="200" fill="#1fbaff" stroke="#1fbaff" stroke-width="10">/</text>
<text transform="matrix(0.9,-0.45,0,1.4,425,450)" x="0" y="0" font-family="'Liberation Sans',Arial,sans-serif" font-weight="700" font-size="200" fill="#1fbaff" stroke="#1fbaff" stroke-width="10">&gt;</text>
<path d="M690.3,569.0 L727.2,571.0 L741.9,524.5 L709.5,508.4 L710.7,486.5 L745.3,461.7 L735.4,418.4 L697.8,430.0 L688.0,413.8 L707.1,371.6 L676.4,348.0 L648.0,383.0 L630.9,378.6 L627.2,335.1 L587.5,340.3 L579.1,385.3 L561.3,394.3 L536.2,366.2 L502.6,398.1 L517.4,435.9 L505.7,455.0 L468.8,453.0 L454.1,499.5 L486.5,515.6 L485.3,537.5 L450.7,562.3 L460.6,605.6 L498.2,594.0 L508.0,610.2 L488.9,652.4 L519.6,676.0 L548.0,641.0 L565.1,645.4 L568.8,688.9 L608.5,683.7 L616.9,638.7 L634.7,629.7 L659.8,657.8 L693.4,625.9 L678.6,588.1 Z M637.7,535.3 L630.5,549.6 L622.1,562.9 L612.8,574.6 L602.9,584.6 L592.7,592.5 L582.4,598.0 L572.5,600.9 L563.1,601.3 L554.6,599.0 L547.2,594.2 L541.2,587.0 L536.8,577.6 L534.0,566.3 L533.0,553.4 L533.7,539.4 L536.3,524.6 L540.5,509.6 L546.3,494.7 L553.5,480.4 L561.9,467.1 L571.2,455.4 L581.1,445.4 L591.3,437.5 L601.6,432.0 L611.5,429.1 L620.9,428.7 L629.4,431.0 L636.8,435.8 L642.8,443.0 L647.2,452.4 L650.0,463.7 L651.0,476.6 L650.3,490.6 L647.7,505.4 L643.5,520.4 Z" fill="#1fbaff" fill-rule="evenodd"/>
</g>
</svg>
<span class="lbl" style="left:23.32px;top:59.18px;font-size:11.48px;transform:scaleX(0.9727)">Hardware</span>
<span class="val" style="left:42.85px;top:73.34px;font-size:16.70px;transform:scaleX(1.0551)">7</span>
</div>
<div class="bubble b-health" style="left:508.6px;top:463.4px;width:113.2px;height:113.2px">
<svg class="ico" style="left:-508.6px;top:-463.4px" viewBox="0 0 868 790" width="868" height="790">
<g transform="translate(530,463) scale(0.09873)">
<path d="M85,312 Q85,285 108,272 L440,75 Q465,62 485,78 Q502,92 502,115 L502,500 Q502,522 480,536 L145,730 Q122,742 102,728 Q85,715 85,690 Z" fill="#666a8a"/>
<path d="M85,312 Q85,285 108,272 L440,75 Q465,62 485,78 L472,100 L128,302 Q114,310 114,326 L114,736 Q100,735 90,712 Q85,700 85,690 Z" fill="#1b1f4b"/>
<polygon points="150,312 465,140 465,528 150,682" fill="#fdfdfd"/>
<polyline points="150,472 205,442 235,305 270,548 295,350 320,380 400,337 420,290 435,310 465,296" fill="none" stroke="#3fc9ff" stroke-width="7" stroke-linejoin="round"/>
<g opacity="0.93">
<polygon points="455,370 407,345 407,475 312,523 312,630 360,655 455,610 407,632 407,680 455,705" fill="#5fd0ff"/>
<polygon points="455,370 545,325 497,300 407,345" fill="#6fd6ff"/>
<polygon points="360,548 455,500 407,475 312,523" fill="#6fd6ff"/>
<polygon points="545,420 635,378 587,353 545,374" fill="#6fd6ff"/>
<polygon points="312,523 360,548 360,655 312,630" fill="#7fdbff"/>
<polygon points="455,370 545,325 545,420 635,378 635,480 545,525 545,660 455,705 455,610 360,655 360,548 455,500" fill="#16bfff"/>
</g>
</g>
</svg>
<span class="lbl" style="left:40.14px;top:75.80px;font-size:11.34px;transform:scaleX(1.0089)">Health</span>
<span class="val" style="left:50.36px;top:88.23px;font-size:20.49px;transform:scaleX(1.1326)">8</span>
</div>
<div class="bubble b-digital-asset-ip" style="left:669.5px;top:483.9px;width:131.0px;height:131.0px">
<svg class="ico" style="left:-669.5px;top:-483.9px" viewBox="0 0 868 790" width="868" height="790">
<g transform="translate(695,488) scale(0.10127)">
<g fill="none" stroke="#2c2f57" stroke-width="6.5" stroke-linejoin="round">
<path d="M295,585 L355,620 Q365,640 350,655 L285,698"/><ellipse cx="252" cy="714" rx="32" ry="22" fill="#fafafa"/>
<path d="M385,535 L525,618"/><ellipse cx="552" cy="634" rx="32" ry="22" fill="#fafafa"/>
<path d="M470,485 L545,520 Q570,530 595,515 L660,478"/><ellipse cx="688" cy="460" rx="32" ry="22" fill="#fafafa"/>
</g>
<defs><path id="dcl" d="M70,530 Q60,490 95,465 Q80,400 130,365 Q170,335 225,345 Q260,290 340,280 Q400,240 480,250 Q560,265 585,320 Q600,370 560,400 L290,560 Q230,595 160,590 Q85,580 70,530 Z"/></defs>
<path d="M70,530 Q60,490 95,465 Q80,400 130,365 Q170,335 225,345 Q260,290 340,280 Q400,240 480,250 Q560,265 585,320 Q600,370 560,400 L290,560 Q230,595 160,590 Q85,580 70,530 Z" transform="translate(0,42)" fill="#1fbaff"/>
<path d="M70,530 Q60,490 95,465 Q80,400 130,365 Q170,335 225,345 Q260,290 340,280 Q400,240 480,250 Q560,265 585,320 Q600,370 560,400 L290,560 Q230,595 160,590 Q85,580 70,530 Z" fill="#6fd6ff"/>
<g font-family="'Liberation Sans',Arial,sans-serif" font-weight="700">
<text transform="matrix(0.88,-0.35,0,1,192,501)" font-size="220" fill="#1d4f86" stroke="#0b0d3e" stroke-width="13" stroke-linejoin="round" style="filter:drop-shadow(7px 12px 0 #0b0d3e)">3.0</text>
<text transform="matrix(0.77,-0.29,0,1,142,337)" font-size="205" fill="#0f1242" stroke="#1b1f4b" stroke-width="15" stroke-linejoin="round" style="filter:drop-shadow(12px 12px 0 #0b0d3e)">WEB</text>
</g>
</g>
</svg>
<span class="lbl" style="left:19.21px;top:84.32px;font-size:14.39px;transform:scaleX(0.9601)">Digital Asset IP</span>
<span class="val" style="left:53.71px;top:100.80px;font-size:22.05px;transform:scaleX(0.9429)">14</span>
</div>
<div class="bubble b-social" style="left:398.4px;top:557.6px;width:130.8px;height:130.8px">
<svg class="ico" style="left:-398.4px;top:-557.6px" viewBox="0 0 868 790" width="868" height="790">
<g transform="translate(412,568) scale(0.11982)">
<defs>
<path id="sob" d="M0,225 Q0,130 60,75 Q120,25 215,0 Q270,5 285,55 L5,215 Z"/>
<clipPath id="sofront"><rect x="0" y="300" width="900" height="400"/></clipPath>
</defs>
<ellipse cx="430" cy="345" rx="388" ry="118" transform="rotate(-19 430 345)" fill="none" stroke="#3a3d66" stroke-width="4"/>
<!-- blue -->
<ellipse cx="275" cy="222" rx="108" ry="152" transform="rotate(20 275 222)" fill="#6fd6ff"/>
<path d="M0,225 Q0,130 60,75 Q120,25 215,0 Q270,5 285,55 L5,215 Z" transform="translate(128,335)" fill="#6fd6ff"/>
<polygon points="128,560 183,565 192,505 133,545" fill="#6fd6ff"/>
<ellipse cx="325" cy="232" rx="108" ry="152" transform="rotate(20 325 232)" fill="#16bfff"/>
<path d="M0,225 Q0,130 60,75 Q120,25 215,0 Q270,5 285,55 L5,215 Z" transform="translate(183,338)" fill="#16bfff"/>
<!-- navy -->
<ellipse cx="548" cy="208" rx="108" ry="152" transform="rotate(20 548 208)" fill="#4a4e75"/>
<path d="M0,225 Q0,130 60,75 Q120,25 215,0 Q270,5 285,55 L5,215 Z" transform="translate(402,322)" fill="#34385e"/>
<polygon points="402,547 458,555 467,495 407,532" fill="#34385e"/>
<ellipse cx="600" cy="218" rx="108" ry="152" transform="rotate(20 600 218)" fill="#0b0d3e"/>
<path d="M0,225 Q0,130 60,75 Q120,25 215,0 Q270,5 285,55 L5,215 Z" transform="translate(458,328)" fill="#0b0d3e"/>
<g clip-path="url(#sofront)"><path d="M63,470 Q120,560 430,463 Q700,370 790,250" fill="none" stroke="#6b6f8f" stroke-width="4"/></g>
</g>
</svg>
<span class="lbl" style="left:49.93px;top:83.66px;font-size:11.63px;transform:scaleX(0.9673)">Social</span>
<span class="val" style="left:51.89px;top:96.63px;font-size:22.97px;transform:scaleX(1.0354)">24</span>
</div>
<div class="bubble b-guild" style="left:559.5px;top:607.5px;width:131.0px;height:131.0px">
<svg class="ico" style="left:-559.5px;top:-607.5px" viewBox="0 0 868 790" width="868" height="790">
<g transform="translate(590,615) scale(0.09615)">
<defs><path id="gsh" d="M185,352 L385,150 L585,125 C600,250 600,360 562,470 C520,570 450,640 388,708 C285,705 200,650 188,520 Z"/></defs>
<path d="M118,300 L325,95 Q340,85 520,68 L598,112 L388,140 L180,350 L200,690 Q135,620 118,500 Z" fill="#6fd6ff"/>
<path d="M118,490 L190,520 L205,690 Q135,620 118,500 Z" fill="#3fc9ff"/>
<path d="M185,352 L385,150 L585,125 C600,250 600,360 562,470 C520,570 450,640 388,708 C285,705 200,650 188,520 Z" fill="#3fc9ff" stroke="#0b0d3e" stroke-width="33" stroke-linejoin="round"/>
</g>
</svg>
<span class="lbl" style="left:52.91px;top:84.40px;font-size:11.34px;transform:scaleX(0.9980)">Guild</span>
<span class="val" style="left:53.67px;top:96.33px;font-size:22.97px;transform:scaleX(0.9355)">16</span>
</div>
<div class="bubble b-fashion" style="left:722.5px;top:649.2px;width:101.4px;height:101.4px">
<svg class="ico" style="left:-722.5px;top:-649.2px" viewBox="0 0 868 790" width="868" height="790">
<g transform="translate(738,650) scale(0.08355)">
<!-- back shoe -->
<path d="M210,432 Q300,290 400,150 Q460,80 520,82 Q548,95 540,140 Q520,230 450,340 Q420,400 395,450 L330,505 Z" fill="#1fbaff"/>
<path d="M250,455 Q380,370 470,230 Q500,180 520,150 Q520,230 450,340 Q420,400 395,450 L330,505 Z" fill="#6fd6ff"/>
<path d="M345,310 Q390,190 498,96 Q528,98 522,135 Q480,240 400,322 Q355,345 345,310 Z" fill="#fafafa"/>
<path d="M522,88 Q550,100 540,150 Q520,240 440,370 L425,360 Q500,240 522,88 Z" fill="#1b2a5c"/>
<path d="M78,560 Q85,520 130,490 L205,435 Q270,470 335,505 L380,540 L350,600 Q250,620 150,610 Q85,600 78,560 Z" fill="#1b3566"/>
<path d="M100,505 L205,435 L250,455 Q170,480 130,520 Z" fill="#2c2f57"/>
<ellipse cx="115" cy="560" rx="38" ry="48" fill="#6fd6ff" transform="rotate(15 115 560)"/>
<!-- heel of front shoe -->
<path d="M330,500 L400,440 L440,372 L480,335 L505,450 L450,560 L372,545 Z" fill="#1b2a5c"/>
<path d="M478,335 L522,300 L505,450 L488,425 Z" fill="#1b2a5c"/>
<!-- front shoe -->
<path d="M360,555 Q430,420 490,270 Q550,140 625,122 Q670,135 680,200 Q690,300 640,420 L605,565 L450,605 Z" fill="#1fbaff"/>
<path d="M420,560 Q520,470 560,330 Q590,240 640,215 Q680,250 660,340 Q640,440 605,565 L450,605 Z" fill="#6fd6ff"/>
<path d="M565,185 Q600,135 635,140 Q665,165 655,215 Q620,200 565,185 Z" fill="#fafafa"/>
<path d="M640,125 Q690,150 690,260 Q670,380 640,440 L610,600 L590,590 Q620,460 650,330 Q675,220 640,125 Z" fill="#1b2a5c"/>
<path d="M476,340 L520,298 L508,455 L486,430 Z" fill="#1b2a5c"/>
<path d="M295,680 Q300,640 335,600 L362,555 Q410,585 450,605 Q540,590 605,560 L615,600 Q610,670 560,700 Q480,735 380,730 Q300,720 295,680 Z" fill="#1b3566"/>
<ellipse cx="355" cy="682" rx="60" ry="38" fill="#3fc9ff" transform="rotate(10 355 682)"/>
<path d="M300,690 Q350,650 415,690 Q380,720 330,715 Z" fill="#6fd6ff"/>
</g>
</svg>
<span class="lbl" style="left:30.08px;top:65.87px;font-size:10.90px;transform:scaleX(1.0600)">Fashion</span>
<span class="val" style="left:44.87px;top:78.80px;font-size:20.64px;transform:scaleX(1.0339)">7</span>
</div>
</body>
</html>
